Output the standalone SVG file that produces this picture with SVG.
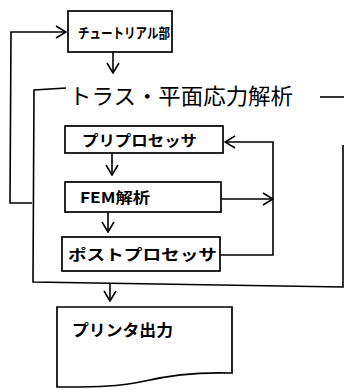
<svg xmlns="http://www.w3.org/2000/svg" width="345" height="390" viewBox="0 0 345 390">
<defs>
<style>
.box{fill:#fff;stroke:#000;stroke-width:1.7}
.ln{fill:none;stroke:#000;stroke-width:1.6}
.t{font-family:"Noto Sans CJK JP","Noto Sans",sans-serif;fill:#000;font-weight:700}
</style>
<marker id="ch" viewBox="0 0 12 14" refX="11" refY="7" markerWidth="12" markerHeight="14" markerUnits="userSpaceOnUse" orient="auto">
<polyline points="1,1 11,7 1,13" fill="none" stroke="#000" stroke-width="1.6"/>
</marker>
</defs>
<rect width="345" height="390" fill="#fff"/>
<g id="connectors">
<polyline class="ln" points="32,203 10,203 11,32 66,32" marker-end="url(#ch)"/>
<line class="ln" x1="113" y1="52" x2="113" y2="73" marker-end="url(#ch)"/>
<polyline class="ln" points="66,88 34,90 33,282 343,287 343,145"/>
<line class="ln" x1="320" y1="97" x2="344" y2="97"/>
<line class="ln" x1="112" y1="153" x2="112" y2="175" marker-end="url(#ch)"/>
<line class="ln" x1="108" y1="212" x2="108" y2="232" marker-end="url(#ch)"/>
<line class="ln" x1="221" y1="199" x2="273" y2="199" marker-end="url(#ch)"/>
<polyline class="ln" points="220,255 273,255 273,142 225,142" marker-end="url(#ch)"/>
<line class="ln" x1="110" y1="284" x2="110" y2="301" marker-end="url(#ch)"/>
</g>
<g id="tutorial">
<rect class="box" x="68" y="11" width="104" height="41"/>
<text class="t" x="78" y="38" font-size="14" textLength="92" lengthAdjust="spacingAndGlyphs">チュートリアル部</text>
</g>
<g id="frame-title">
<text class="t" x="69" y="104" font-size="22" style="font-weight:400" textLength="224" lengthAdjust="spacingAndGlyphs">トラス・平面応力解析</text>
</g>
<g id="pre">
<rect class="box" x="65" y="126" width="158" height="27"/>
<text class="t" x="82" y="146" font-size="15" textLength="115" lengthAdjust="spacingAndGlyphs">プリプロセッサ</text>
</g>
<g id="fem">
<rect class="box" x="65" y="182" width="156" height="30"/>
<text class="t" x="80" y="203" font-size="15" textLength="70" lengthAdjust="spacingAndGlyphs">FEM解析</text>
</g>
<g id="post">
<rect class="box" x="62" y="237" width="158" height="34"/>
<text class="t" x="68" y="260" font-size="15" textLength="149" lengthAdjust="spacingAndGlyphs">ポストプロセッサ</text>
</g>
<g id="printer">
<path class="box" d="M57,307 H232 V373 C200,372 170,375 145,381 C120,387 90,387 57,387 Z"/>
<text class="t" x="72" y="336" font-size="16" textLength="101" lengthAdjust="spacingAndGlyphs">プリンタ出力</text>
</g>
</svg>
